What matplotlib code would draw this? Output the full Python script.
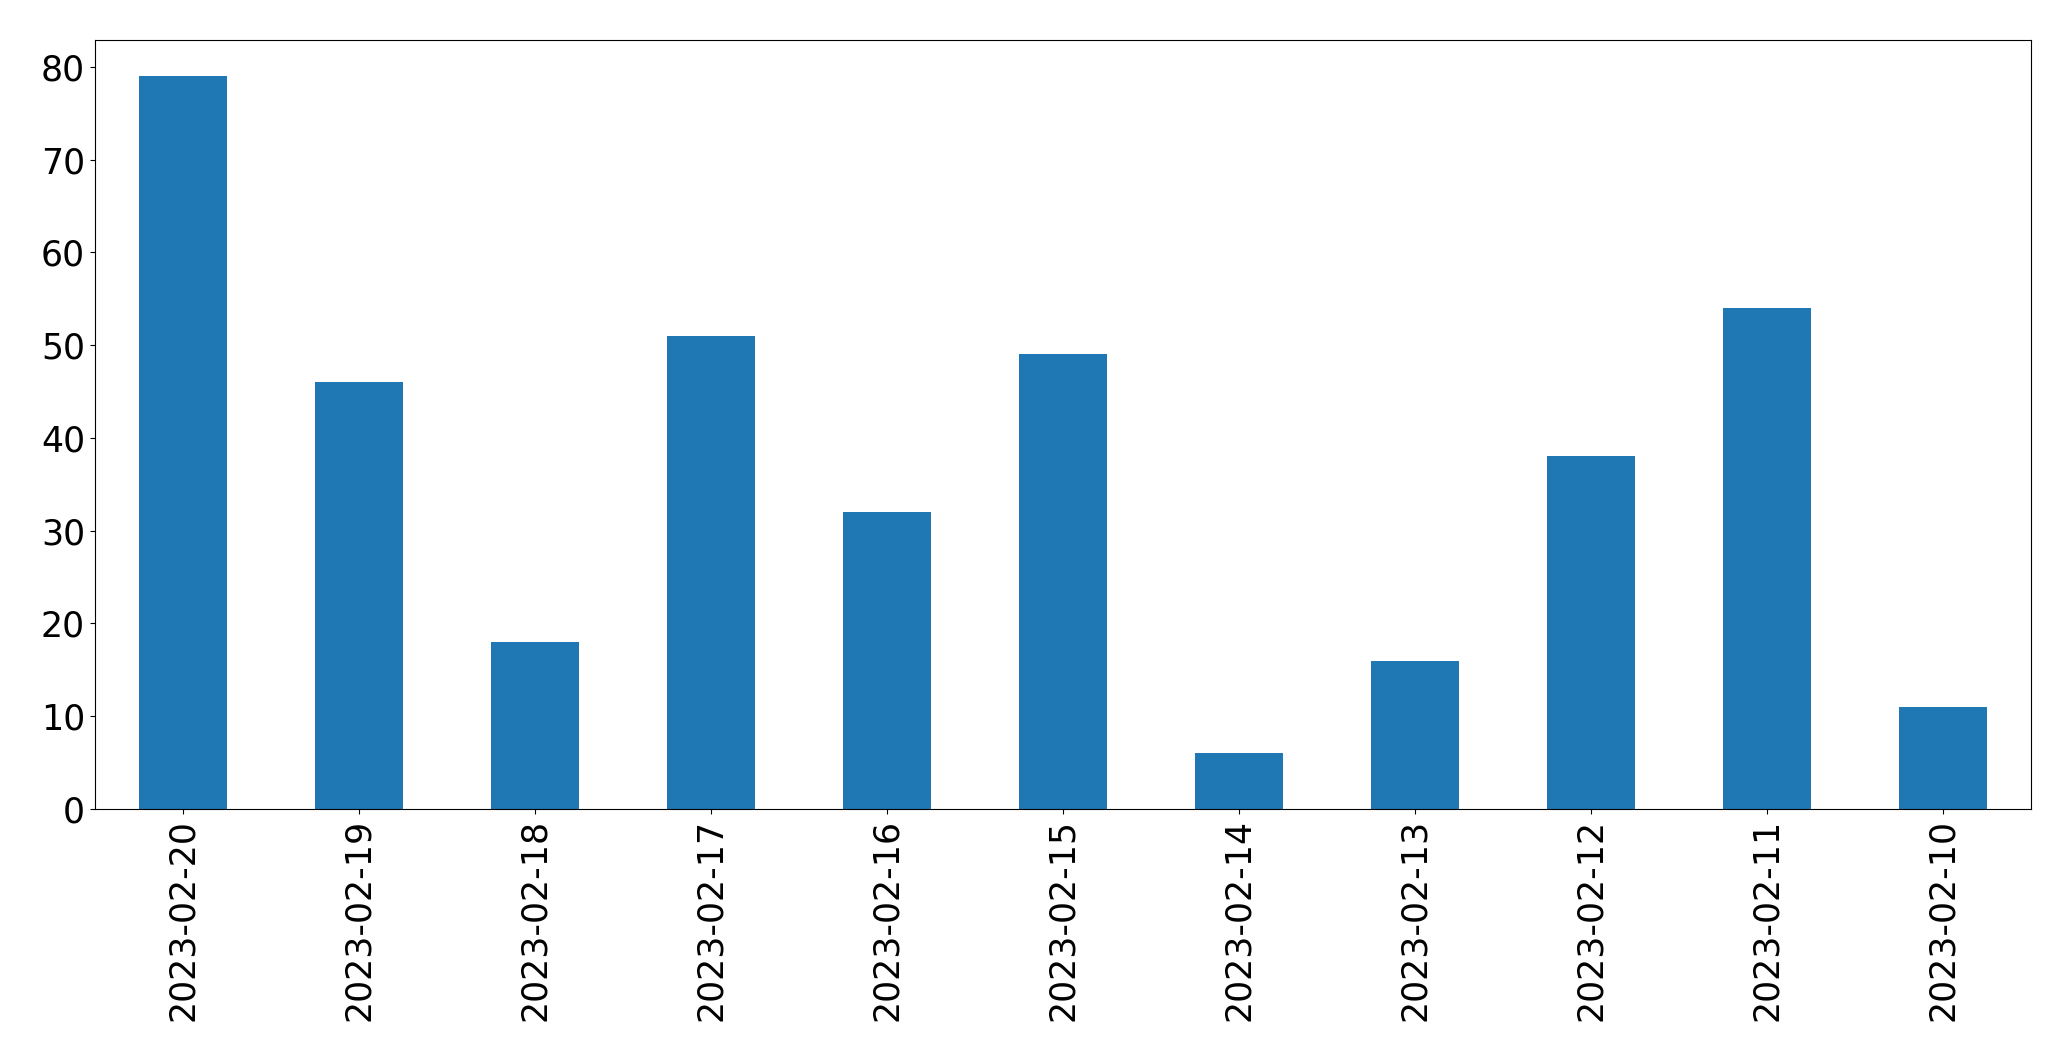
import matplotlib
matplotlib.use("Agg")
import matplotlib.pyplot as plt

dates = ["2023-02-20", "2023-02-19", "2023-02-18", "2023-02-17", "2023-02-16",
         "2023-02-15", "2023-02-14", "2023-02-13", "2023-02-12", "2023-02-11",
         "2023-02-10"]
counts = [79, 46, 18, 51, 32, 49, 6, 16, 38, 54, 11]

W, H = 2071, 1061
fig = plt.figure(figsize=(20.71, 10.61), dpi=100)
ax = fig.add_axes([94.7 / W, 1 - 809 / H, (2031 - 94.7) / W, (809 - 39.5) / H])
x = list(range(len(dates)))
ax.bar(x, counts, width=0.5, color="#1f77b4")
ax.set_xlim(-0.5, len(dates) - 0.5)
ax.set_ylim(0, max(counts) * 1.05)
ax.set_xticks(x)
ax.set_xticklabels(dates, rotation=90)
ax.tick_params(labelsize=25)
fig.savefig("out.png", dpi=100)
